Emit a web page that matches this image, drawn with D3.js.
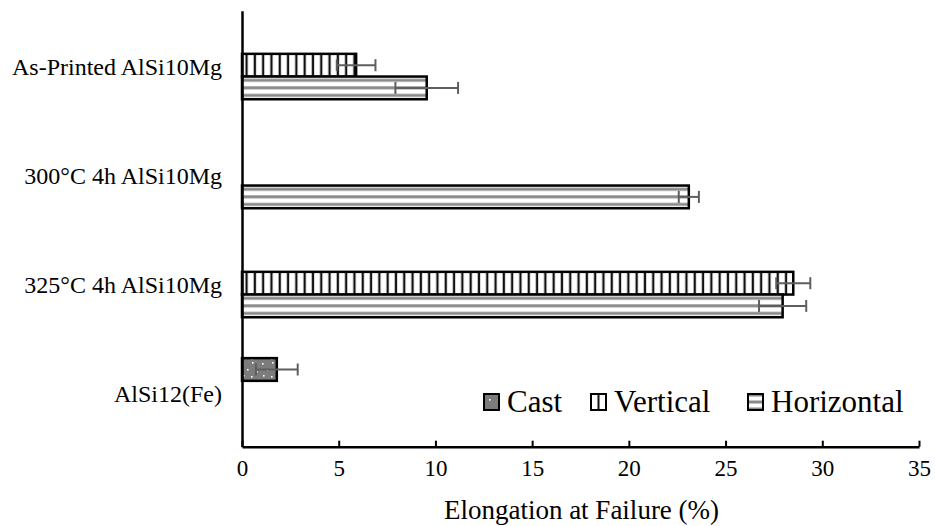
<!DOCTYPE html>
<html>
<head>
<meta charset="utf-8">
<script src="https://cdn.jsdelivr.net/npm/d3@7/dist/d3.min.js"></script>
<style>
  html, body { margin: 0; padding: 0; background: #fff; }
  svg { display: block; }
</style>
</head>
<body>
<svg id="chart" width="935" height="526"></svg>
<script>
// Elongation at failure of AlSi10Mg / AlSi12(Fe) specimens, by build orientation
const categories = ["As-Printed AlSi10Mg", "300°C 4h AlSi10Mg", "325°C 4h AlSi10Mg", "AlSi12(Fe)"];
const seriesNames = ["Cast", "Vertical", "Horizontal"];
const castValues       = [null, null, null, 1.8];
const castErrors       = [null, null, null, 1.08];
const verticalValues   = [5.9, null, 28.5, null];
const verticalErrors   = [1.0, null, 0.88, null];
const horizontalValues = [9.55, 23.1, 27.95, null];
const horizontalErrors = [1.62, 0.52, 1.22, null];
const xTicks = [0, 5, 10, 15, 20, 25, 30, 35];

const FONT = "'Liberation Serif'";
const svg = d3.select("#chart");
const defs = svg.append("defs");

// Cast: grey fill sprinkled with small white dots
const pCast = defs.append("pattern").attr("id", "pCast")
  .attr("patternUnits", "userSpaceOnUse").attr("width", 20).attr("height", 18);
pCast.append("rect").attr("width", 20).attr("height", 18).attr("fill", "#7c7c7c");
[[2, 3], [12, 2], [7, 9], [16, 11], [3, 15], [11, 16]].forEach(([cx, cy]) =>
  pCast.append("rect").attr("x", cx).attr("y", cy).attr("width", 1.6).attr("height", 1.6).attr("fill", "#fff"));

// Vertical: white with black vertical lines
const pVert = defs.append("pattern").attr("id", "pVert")
  .attr("patternUnits", "userSpaceOnUse").attr("x", 242).attr("width", 8.3).attr("height", 10);
pVert.append("rect").attr("width", 8.3).attr("height", 10).attr("fill", "#fff");
pVert.append("rect").attr("x", 3.4).attr("width", 2.3).attr("height", 10).attr("fill", "#111");

// Horizontal: white with grey horizontal stripes, three per bar
const pHorz = defs.append("pattern").attr("id", "pHorz")
  .attr("patternUnits", "objectBoundingBox").attr("width", 1).attr("height", 1 / 3);
pHorz.append("rect").attr("width", 1000).attr("height", 20).attr("fill", "#fff");
pHorz.append("rect").attr("y", 2.2).attr("width", 1000).attr("height", 3).attr("fill", "#8a8a8a");

// Legend marker fills
const pCastLeg = defs.append("pattern").attr("id", "pCastLeg")
  .attr("patternUnits", "objectBoundingBox").attr("width", 1).attr("height", 1);
pCastLeg.append("rect").attr("width", 40).attr("height", 40).attr("fill", "#7c7c7c");
pCastLeg.append("rect").attr("x", 5).attr("y", 5).attr("width", 1.6).attr("height", 1.6).attr("fill", "#fff");

const pVertLeg = defs.append("pattern").attr("id", "pVertLeg")
  .attr("patternUnits", "objectBoundingBox").attr("width", 1).attr("height", 1);
pVertLeg.append("rect").attr("width", 40).attr("height", 40).attr("fill", "#fff");
pVertLeg.append("rect").attr("x", 6.5).attr("width", 2).attr("height", 40).attr("fill", "#111");

const pHorzLeg = defs.append("pattern").attr("id", "pHorzLeg")
  .attr("patternUnits", "objectBoundingBox").attr("width", 1).attr("height", 1);
pHorzLeg.append("rect").attr("width", 40).attr("height", 40).attr("fill", "#fff");
pHorzLeg.append("rect").attr("y", 6.5).attr("width", 40).attr("height", 3).attr("fill", "#8a8a8a");
pHorzLeg.append("rect").attr("y", 0).attr("width", 40).attr("height", 2.5).attr("fill", "#8a8a8a");
pHorzLeg.append("rect").attr("y", 13.5).attr("width", 40).attr("height", 2.5).attr("fill", "#8a8a8a");

const fills = { Cast: "url(#pCast)", Vertical: "url(#pVert)", Horizontal: "url(#pHorz)" };

const x = d3.scaleLinear().domain([0, 35]).range([242, 919]);
const y0 = d3.scaleBand().domain(categories).range([10.7, 446.7]);
const step = y0.bandwidth();
const gapRatio = 1.8;
const barH = step / (seriesNames.length + gapRatio);
const y1 = d3.scaleBand().domain(seriesNames)
  .range([barH * gapRatio / 2, step - barH * gapRatio / 2]);

const records = [];
categories.forEach((c, i) => {
  [["Cast", castValues, castErrors], ["Vertical", verticalValues, verticalErrors],
   ["Horizontal", horizontalValues, horizontalErrors]].forEach(([s, vals, errs]) => {
    if (vals[i] != null) records.push({ category: c, series: s, value: vals[i], err: errs[i] });
  });
});

// Bars
svg.append("g").selectAll("rect").data(records).join("rect")
  .attr("x", x(0))
  .attr("y", d => y0(d.category) + y1(d.series))
  .attr("width", d => x(d.value) - x(0))
  .attr("height", y1.bandwidth())
  .attr("fill", d => fills[d.series])
  .attr("stroke", "#000").attr("stroke-width", 2.5);

// Error bars
const eb = svg.append("g").attr("stroke", "#5e5e5e").attr("stroke-width", 2).attr("fill", "none");
records.forEach(d => {
  const cy = y0(d.category) + y1(d.series) + y1.bandwidth() / 2;
  const xa = x(d.value - d.err), xb = x(d.value + d.err);
  eb.append("line").attr("x1", xa).attr("x2", xb).attr("y1", cy).attr("y2", cy);
  eb.append("line").attr("x1", xa).attr("x2", xa).attr("y1", cy - 6).attr("y2", cy + 6);
  eb.append("line").attr("x1", xb).attr("x2", xb).attr("y1", cy - 6).attr("y2", cy + 6);
});

// X axis with inward ticks
const xAxis = svg.append("g").attr("transform", `translate(0,${y0.range()[1]})`)
  .call(d3.axisBottom(x).tickValues(xTicks).tickSizeInner(-6).tickSizeOuter(0).tickPadding(13));
xAxis.select(".domain").attr("stroke", "#000").attr("stroke-width", 2.5);
xAxis.selectAll(".tick line").attr("stroke", "#000").attr("stroke-width", 2);
xAxis.selectAll(".tick text").attr("font-family", FONT).attr("font-size", 23).attr("fill", "#000");

// Y axis: category labels only
const yAxis = svg.append("g").attr("transform", `translate(${x(0)},0)`)
  .call(d3.axisLeft(y0).tickSize(0).tickPadding(20));
yAxis.select(".domain").attr("stroke", "#000").attr("stroke-width", 2.5);
yAxis.selectAll(".tick text").attr("font-family", FONT).attr("font-size", 24)
  .attr("fill", "#000").attr("dy", "0.42em");

// Axis title
svg.append("text").attr("x", (x(0) + x(35)) / 2 + 1).attr("y", 519)
  .attr("text-anchor", "middle").attr("font-family", FONT).attr("font-size", 27)
  .text("Elongation at Failure (%)");

// Legend
const legendItems = [
  { name: "Cast", x: 484, fill: "url(#pCastLeg)" },
  { name: "Vertical", x: 591, fill: "url(#pVertLeg)" },
  { name: "Horizontal", x: 748, fill: "url(#pHorzLeg)" }
];
const lg = svg.append("g");
legendItems.forEach(it => {
  lg.append("rect").attr("x", it.x).attr("y", 394).attr("width", 15).attr("height", 16)
    .attr("fill", it.fill).attr("stroke", "#000").attr("stroke-width", 2);
  lg.append("text").attr("x", it.x + 23).attr("y", 412)
    .attr("font-family", FONT).attr("font-size", 31).text(it.name);
});
</script>
</body>
</html>
